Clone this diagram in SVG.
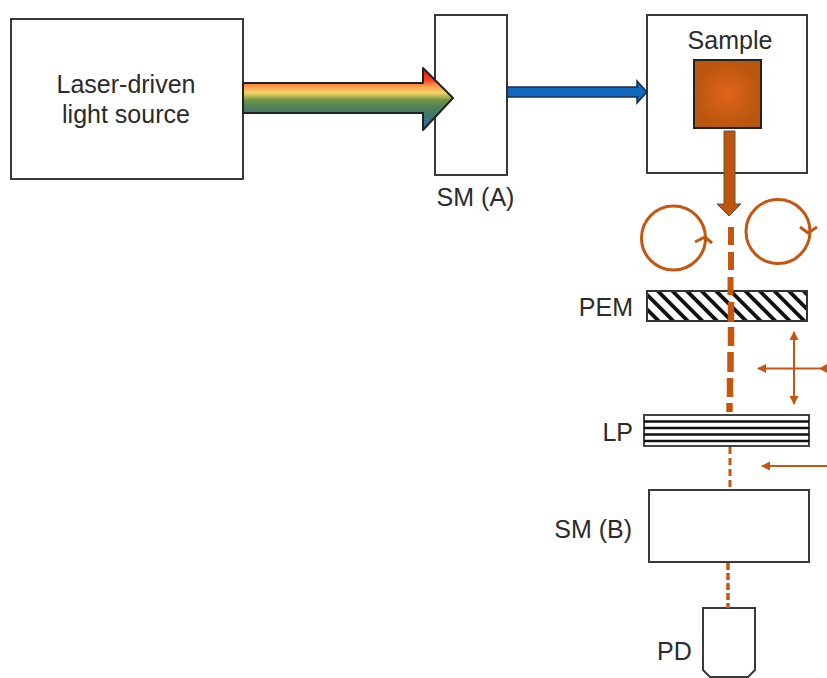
<svg xmlns="http://www.w3.org/2000/svg" width="827" height="678" viewBox="0 0 827 678">
<style>
text{font-family:"Liberation Sans",Arial,sans-serif;font-size:25px;fill:#2b2b2b}
.box{fill:#fff;stroke:#3a3a3a;stroke-width:2}
.or{stroke:#c4560f;fill:none}
</style>
<defs>
<linearGradient id="rainbow" gradientUnits="userSpaceOnUse" x1="0" y1="68" x2="0" y2="130">
<stop offset="0" stop-color="#ff0000"/><stop offset="0.2" stop-color="#f3482a"/><stop offset="0.29" stop-color="#fb9a4a"/><stop offset="0.40" stop-color="#f4d566"/><stop offset="0.52" stop-color="#6d9346"/><stop offset="0.65" stop-color="#4c7f5c"/><stop offset="1" stop-color="#2a6a9c"/>
</linearGradient>
<radialGradient id="samp"><stop offset="0" stop-color="#e0641a"/><stop offset="1" stop-color="#b9560f"/></radialGradient>
<pattern id="hatch" patternUnits="userSpaceOnUse" width="10.300" height="10.300" patternTransform="rotate(-45)">
<rect width="10.300" height="10.300" fill="#fff"/><rect width="3.800" height="10.300" fill="#111"/>
</pattern>
<marker id="ah" markerWidth="10" markerHeight="10" refX="8" refY="4.500" orient="auto-start-reverse" markerUnits="userSpaceOnUse"><path d="M0 0L9 4.500L0 9Z" fill="#c4560f"/></marker>
</defs>
<g id="laser"><rect class="box" x="11" y="19" width="232" height="160"/><text x="126" y="93" text-anchor="middle">Laser-driven</text><text x="126" y="123" text-anchor="middle">light source</text></g>
<g id="sm-a"><rect class="box" x="435" y="15" width="72" height="160"/><text x="475.500" y="206" text-anchor="middle">SM (A)</text></g>
<g id="sample"><rect class="box" x="647" y="15" width="160" height="158"/><text x="730" y="49" text-anchor="middle">Sample</text><rect x="694" y="60" width="67" height="68" fill="url(#samp)" stroke="#222" stroke-width="2"/></g>
<g id="pem"><rect x="647" y="291" width="160" height="30" fill="url(#hatch)" stroke="#333" stroke-width="2"/><text x="633" y="316" text-anchor="end">PEM</text></g>
<g id="lp"><rect x="644" y="415" width="165" height="31" fill="#fff" stroke="#444" stroke-width="2"/><path d="M644 421.500H809M644 428H809M644 434.500H809M644 441H809" stroke="#111" stroke-width="2.500" fill="none"/><text x="633" y="441" text-anchor="end">LP</text></g>
<g id="sm-b"><rect class="box" x="649" y="490" width="160" height="72"/><text x="632" y="538" text-anchor="end">SM (B)</text></g>
<g id="pd"><path class="box" d="M703 608H755V670L748 677H710L703 670Z"/><text x="657" y="660">PD</text></g>
<g id="connectors">
<path d="M243 83H423V68L453 98L423 130V113H243Z" fill="url(#rainbow)" stroke="#222" stroke-width="2" stroke-linejoin="round"/>
<path d="M507 87H637V81L647 92L637 103V97H507Z" fill="#0f68bd" stroke="#1d2f45" stroke-width="1.500"/>
<path d="M724 131H735V204H741L729 216L717 204H724Z" fill="#c0540c" stroke="#555" stroke-width="1"/>
<path class="or" stroke-width="6" d="M731 227V245M731 252V270M730.500 277V295"/>
<path class="or" stroke-width="6.500" d="M731 302V322M731 327V346M730.500 352V372M730 378V397M729.500 403V412"/>
<path class="or" stroke-width="3" stroke-dasharray="7 4" d="M730 447V490"/>
<path class="or" stroke-width="3.500" stroke-dasharray="7 3" d="M728 563V608"/>
<circle class="or" stroke-width="3" cx="673.500" cy="238" r="32"/>
<path class="or" stroke-width="3" d="M695 242L705 237L712 243"/>
<circle class="or" stroke-width="3" cx="778" cy="231.500" r="32"/>
<path class="or" stroke-width="3" d="M800 227L808 233L817 227"/>
<path class="or" stroke-width="2" marker-start="url(#ah)" d="M758 368.500H827"/>
<path class="or" stroke-width="2" marker-start="url(#ah)" marker-end="url(#ah)" d="M794 332V404"/>
<path class="or" stroke-width="2" marker-start="url(#ah)" d="M762 466H827"/>
<path d="M827 364L819 368.500L827 373Z" fill="#c4560f"/>
</g>
</svg>
